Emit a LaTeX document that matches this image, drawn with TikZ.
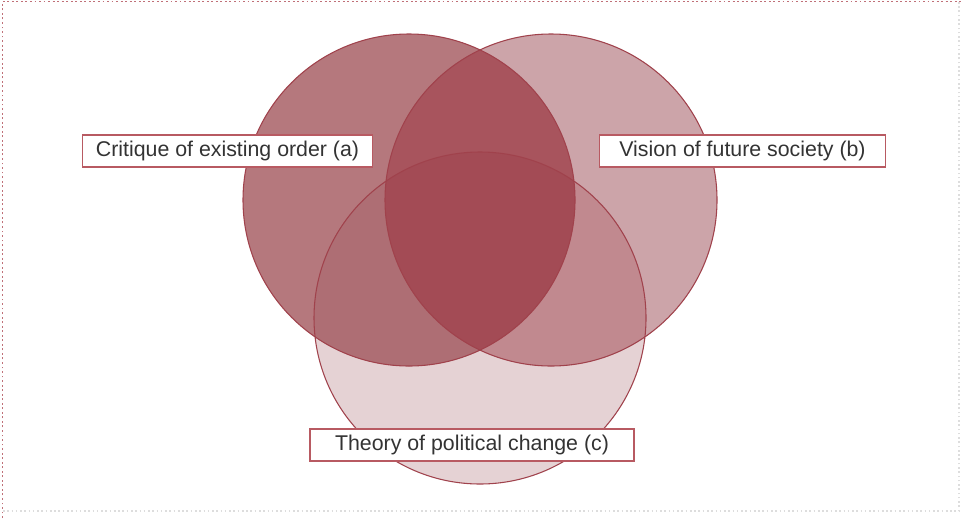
\documentclass[tikz,border=0pt]{standalone}
\usepackage{fontspec}
\setmainfont{Liberation Sans}
\begin{document}
\begin{tikzpicture}[x=0.75pt,y=-0.75pt,
  lbl/.style={draw=boxred, line width=0.9pt, fill=white, inner sep=0pt,
    minimum height=24pt, text=textgray, font=\fontsize{16}{18}\selectfont},
  ring/.style={draw=ringred, line width=0.8pt}]
\definecolor{aonly}{HTML}{B5787D}
\definecolor{bonly}{HTML}{CCA4A9}
\definecolor{conly}{HTML}{E5D2D4}
\definecolor{acol}{HTML}{AE6E74}
\definecolor{bccol}{HTML}{C1898F}
\definecolor{abcol}{HTML}{A8545D}
\definecolor{abccol}{HTML}{A34B55}
\definecolor{ringred}{HTML}{A0424C}
\definecolor{boxred}{HTML}{B85A62}
\definecolor{textgray}{HTML}{333333}
\definecolor{dotred}{HTML}{C07078}
\definecolor{dotgray}{HTML}{DDDDDD}
\useasboundingbox (0,0) rectangle (962,518);
\fill[white] (0,0) rectangle (962,518);
% frame
\draw[dotred, line width=1.4pt, dotted] (2.5,518) -- (2.5,1.5) -- (962,1.5);
\draw[dotgray, line width=1.2pt, dotted] (3,511) -- (959,511) -- (959,2);
% circle centres
\coordinate (ca) at (409,200);
\coordinate (cb) at (551,200);
\coordinate (cc) at (480,318);
\def\R{124.5pt}
% single regions
\fill[conly] (cc) circle[radius=\R];
\fill[aonly] (ca) circle[radius=\R];
\fill[bonly] (cb) circle[radius=\R];
% pairwise
\begin{scope}
  \clip (ca) circle[radius=\R];
  \fill[acol] (cc) circle[radius=\R];
  \fill[abcol] (cb) circle[radius=\R];
\end{scope}
\begin{scope}
  \clip (cb) circle[radius=\R];
  \fill[bccol] (cc) circle[radius=\R];
\end{scope}
\begin{scope}
  \clip (ca) circle[radius=\R];
  \clip (cb) circle[radius=\R];
  \fill[abccol] (cc) circle[radius=\R];
\end{scope}
% outlines
\draw[ring] (ca) circle[radius=\R];
\draw[ring] (cb) circle[radius=\R];
\draw[ring] (cc) circle[radius=\R];
% labels
\node[lbl, minimum width=218pt] (la) at (227.5,151) {Critique of existing order (a)};
\node[lbl, minimum width=215pt] (lb) at (742.5,151) {Vision of future society (b)};
\node[lbl, minimum width=243pt] (lc) at (472,445) {Theory of political change (c)};
\end{tikzpicture}
\end{document}
